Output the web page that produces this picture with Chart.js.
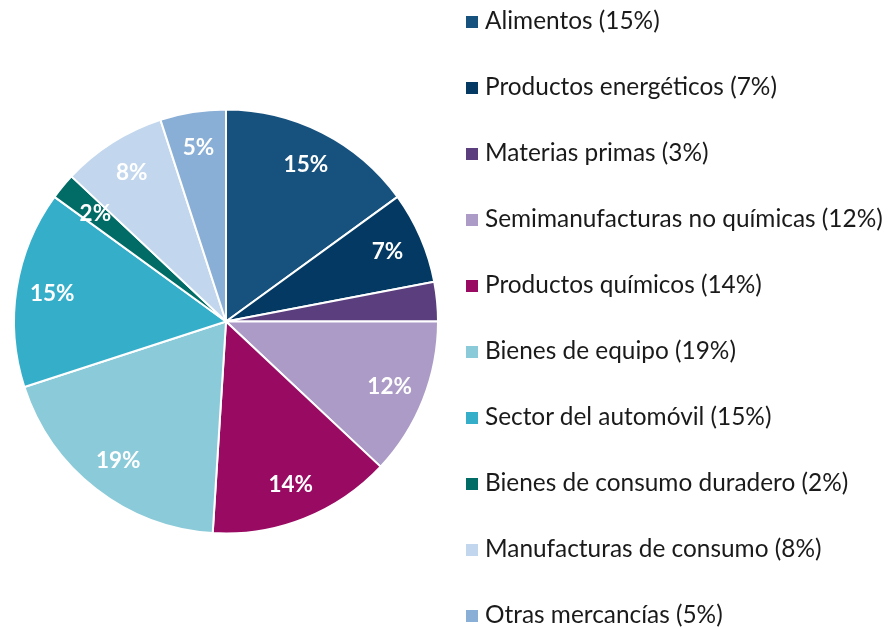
<!DOCTYPE html>
<html>
<head>
<meta charset="utf-8">
<script src="https://cdn.jsdelivr.net/npm/chart.js"></script>
<style>
  html, body { margin: 0; padding: 0; background: #fff; }
  #wrap { position: relative; width: 891px; height: 629px; }
  #pieChart { position: absolute; left: 0; top: 0; }
  #legend { position: absolute; left: 466px; top: 0; margin: 0; padding: 0; list-style: none;
    font-family: Lato, "Open Sans", sans-serif; font-size: 24.4px; color: #1a1a1a; }
  #legend li { position: absolute; left: 0; white-space: nowrap; height: 30px; line-height: 30px; }
  #legend span.box { display: inline-block; width: 12px; height: 12px; margin-right: 7px; vertical-align: 1px; }
</style>
</head>
<body>
<div id="wrap">
  <canvas id="pieChart" width="891" height="629"></canvas>
  <ul id="legend"></ul>
</div>
<script>
const labels = ['Alimentos', 'Productos energéticos', 'Materias primas', 'Semimanufacturas no químicas',
  'Productos químicos', 'Bienes de equipo', 'Sector del automóvil', 'Bienes de consumo duradero',
  'Manufacturas de consumo', 'Otras mercancías'];
const shares = [15, 7, 3, 12, 14, 19, 15, 2, 8, 5];
const colors = ['#17527E', '#033962', '#5B3E7D', '#AB9BC6', '#990B62', '#8BCAD8', '#35AECA', '#016B66', '#C2D7EE', '#89AFD6'];

// white percentage labels inside the slices (3% one is not shown in the original)
const sliceLabels = {
  id: 'sliceLabels',
  afterDatasetsDraw(chart) {
    const ctx = chart.ctx;
    const meta = chart.getDatasetMeta(0);
    ctx.save();
    ctx.font = 'bold 22.5px Lato, sans-serif';
    ctx.fillStyle = '#fff';
    ctx.textAlign = 'center';
    ctx.textBaseline = 'middle';
    meta.data.forEach((arc, i) => {
      if (shares[i] === 3) return;
      const p = arc.getProps(['x', 'y', 'startAngle', 'endAngle', 'outerRadius'], true);
      const a = (p.startAngle + p.endAngle) / 2;
      const r = p.outerRadius * (shares[i] < 3 ? 0.8 : 0.83);
      ctx.fillText(shares[i] + '%', p.x + Math.cos(a) * r, p.y + Math.sin(a) * r);
    });
    ctx.restore();
  }
};

const pieData = {
  labels: labels,
  datasets: [{
    data: shares,
    backgroundColor: colors,
    borderColor: '#fff',
    borderWidth: 2
  }]
};

const pieConfig = {
  type: 'pie',
  data: pieData,
  options: {
    responsive: false,
    animation: false,
    layout: { padding: { left: 13, right: 452, top: 108, bottom: 94 } },
    plugins: {
      legend: { display: false },
      tooltip: { enabled: false }
    }
  },
  plugins: [sliceLabels]
};

new Chart(document.getElementById('pieChart'), pieConfig);

const legend = document.getElementById('legend');
labels.forEach((l, i) => {
  const li = document.createElement('li');
  li.style.top = (5 + i * 66) + 'px';
  li.innerHTML = '<span class="box" style="background:' + colors[i] + '"></span>' + l + ' (' + shares[i] + '%)';
  legend.appendChild(li);
});
</script>
</body>
</html>
